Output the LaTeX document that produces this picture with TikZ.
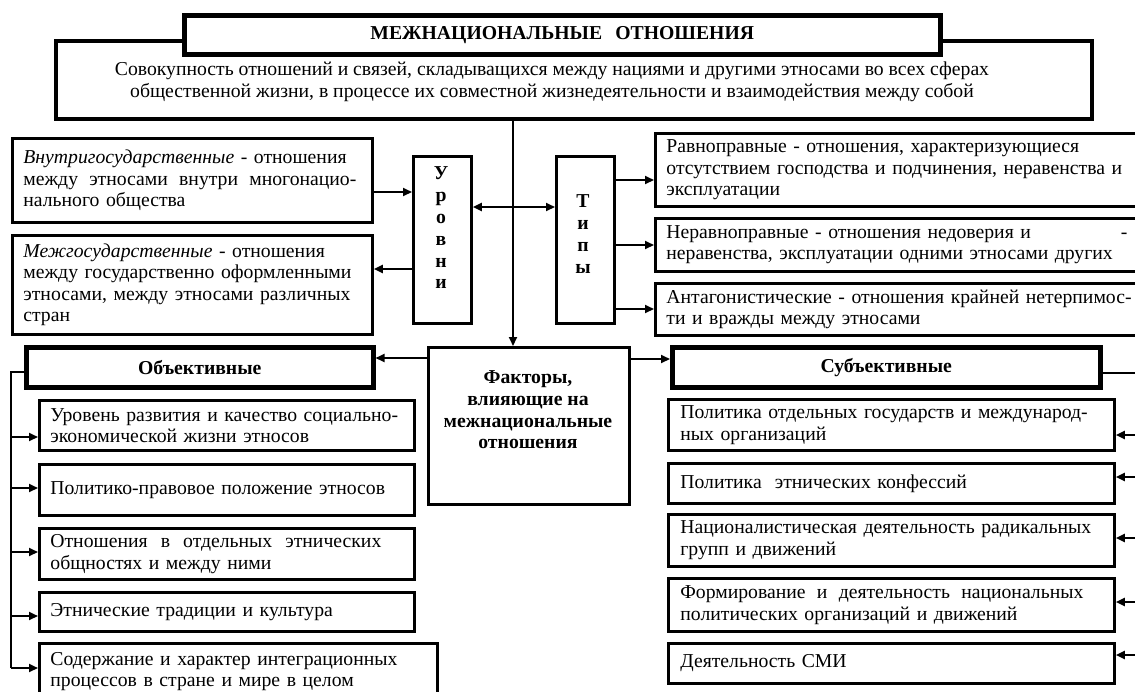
\documentclass[tikz,border=0pt]{standalone}
\usepackage{fontspec}
\setmainfont{Liberation Serif}
\usetikzlibrary{arrows.meta}
\newcommand{\fs}{\fontsize{19.7}{21.5}\selectfont}
\begin{document}
\begin{tikzpicture}[x=1pt,y=-1pt,
  box/.style={draw, line width=2.8pt, fill=white, inner xsep=11pt, inner ysep=0pt, anchor=north west, align=left, font=\fs},
  heavy/.style={box, line width=4.5pt, align=center, font=\fs\bfseries},
  txt/.style={inner sep=0pt, align=center, font=\fs},
  conn/.style={line width=2pt},
  arr/.style={conn, -{Triangle[length=9pt,width=8pt]}},
  darr/.style={conn, {Triangle[length=9pt,width=8pt]}-{Triangle[length=9pt,width=8pt]}}]
\useasboundingbox (0,0) rectangle (1135,691);
\clip (0,0) rectangle (1135,691);
\fill[white] (0,0) rectangle (1135,691);
% top
\node[box, line width=3.5pt, minimum width=1036pt, minimum height=78pt, text width=1000pt] (desc) at (54,39) {};
\node[txt] (desctext) at (552,82) {Совокупность отношений и связей, складыващихся между нациями и другими этносами во всех сферах\\общественной жизни, в процессе их совместной жизнедеятельности и взаимодействия между собой};
\node[heavy, minimum width=756pt, minimum height=39pt, text width=730pt] (title) at (182,13) {МЕЖНАЦИОНАЛЬНЫЕ\ \ ОТНОШЕНИЯ};
% levels
\node[box, minimum width=360pt, minimum height=84pt, text width=338pt] (vnutri) at (11,137)
 {\textit{Внутригосударственные} - отношения\\\makebox[333pt][l]{между\hfill этносами\hfill внутри\hfill многонацио-}\\нального общества};
\node[box, minimum width=360pt, minimum height=99pt, text width=338pt] (mezh) at (11,234)
 {\textit{Межгосударственные} - отношения\\между государственно оформленными\\этносами, между этносами различных\\стран};
\node[box, minimum width=58pt, minimum height=167pt, text width=36pt] (urov) at (412,155) {};
\node[txt, font=\fontsize{19.7}{21.8}\selectfont\bfseries] (urovtext) at (441,228) {У\\р\\о\\в\\н\\и};
\node[box, minimum width=58pt, minimum height=167pt, text width=36pt] (tipy) at (555,155) {};
\node[txt, font=\fontsize{19.7}{22.3}\selectfont\bfseries] (tipytext) at (583,234) {Т\\и\\п\\ы};
% types
\node[box, minimum width=500pt, minimum height=73pt, text width=478pt] (rav) at (654,132)
 {Равноправные - отношения, характеризующиеся\\отсутствием господства и подчинения, неравенства и\\эксплуатации};
\node[box, minimum width=500pt, minimum height=53pt, text width=478pt] (ner) at (654,217)
 {\makebox[461pt][l]{Неравноправные - отношения недоверия и\hfill-}\\неравенства, эксплуатации одними этносами других};
\node[box, minimum width=500pt, minimum height=52pt, text width=478pt] (ant) at (654,282)
 {Антагонистические - отношения крайней нетерпимос-\\ти и вражды между этносами};
% factors
\node[box, minimum width=201pt, minimum height=157pt, text width=179pt] (fak) at (427,346) {};
\node[txt, font=\fontsize{19.7}{21.7}\selectfont\bfseries] (faktext) at (528,410) {Факторы,\\влияющие на\\межнациональные\\отношения};
\node[heavy, minimum width=347pt, minimum height=40pt, text width=325pt] (obj) at (24,345) {Объективные};
\node[heavy, minimum width=428pt, minimum height=40pt, text width=406pt] (subj) at (670,345) {Субъективные};
% objective items
\node[box, minimum width=375pt, minimum height=50pt, text width=353pt] (o1) at (38,399)
 {Уровень развития и качество социально-\\экономической жизни этносов};
\node[box, minimum width=375pt, minimum height=51pt, text width=353pt] (o2) at (38,463)
 {Политико-правовое положение этносов};
\node[box, minimum width=375pt, minimum height=51pt, text width=353pt] (o3) at (38,527)
 {\makebox[331pt][l]{Отношения\hfill в\hfill отдельных\hfill этнических}\\общностях и между ними};
\node[box, minimum width=375pt, minimum height=39pt, text width=353pt] (o4) at (38,591)
 {Этнические традиции и культура};
\node[box, minimum width=398pt, minimum height=56pt, text width=376pt] (o5) at (38,642)
 {Содержание и характер интеграционных\\процессов в стране и мире в целом};
% subjective items
\node[box, inner xsep=12pt, minimum width=446pt, minimum height=51pt, text width=422pt] (s1) at (667,398)
 {Политика отдельных государств и международ-\\ных организаций};
\node[box, inner xsep=12pt, minimum width=446pt, minimum height=40pt, text width=422pt] (s2) at (667,462)
 {Политика\ \ этнических конфессий};
\node[box, inner xsep=12pt, minimum width=446pt, minimum height=52pt, text width=422pt] (s3) at (667,513)
 {Националистическая деятельность радикальных\\групп и движений};
\node[box, inner xsep=12pt, minimum width=446pt, minimum height=53pt, text width=422pt] (s4) at (667,577)
 {\makebox[403pt][l]{Формирование\hfill и\hfill деятельность\hfill национальных}\\политических организаций и движений};
\node[box, inner xsep=12pt, minimum width=446pt, minimum height=40pt, text width=422pt] (s5) at (667,642)
 {Деятельность СМИ};
% connectors
\draw[arr] (desc.south -| 513,0) -- (fak.north -| 513,0);
\draw[arr] (vnutri.east |- 0,192) -- (urov.west |- 0,192);
\draw[arr] (urov.west |- 0,269) -- (mezh.east |- 0,269);
\draw[darr] (urov.east |- 0,207) -- (tipy.west |- 0,207);
\draw[arr] (tipy.east |- 0,180) -- (rav.west |- 0,180);
\draw[arr] (tipy.east |- 0,245) -- (ner.west |- 0,245);
\draw[arr] (tipy.east |- 0,309) -- (ant.west |- 0,309);
\draw[arr] (fak.west |- 0,358) -- (obj.east |- 0,358);
\draw[arr] (fak.east |- 0,359) -- (subj.west |- 0,359);
\coordinate (lb1) at (11,372);
\coordinate (lb2) at (11,668);
\draw[conn] (obj.west |- lb1) -- (lb1) -- (lb2);
\draw[arr] (lb1 |- 0,437) -- (o1.west |- 0,437);
\draw[arr] (lb1 |- 0,488) -- (o2.west |- 0,488);
\draw[arr] (lb1 |- 0,552) -- (o3.west |- 0,552);
\draw[arr] (lb1 |- 0,616) -- (o4.west |- 0,616);
\draw[arr] (lb2) -- (o5.west |- lb2);
\coordinate (rb1) at (1141,373);
\coordinate (rb2) at (1141,655);
\draw[conn] (subj.east |- rb1) -- (rb1) -- (rb2);
\draw[arr] (rb1 |- 0,435) -- (s1.east |- 0,435);
\draw[arr] (rb1 |- 0,477) -- (s2.east |- 0,477);
\draw[arr] (rb1 |- 0,538) -- (s3.east |- 0,538);
\draw[arr] (rb1 |- 0,602) -- (s4.east |- 0,602);
\draw[arr] (rb2) -- (s5.east |- rb2);
\end{tikzpicture}
\end{document}
